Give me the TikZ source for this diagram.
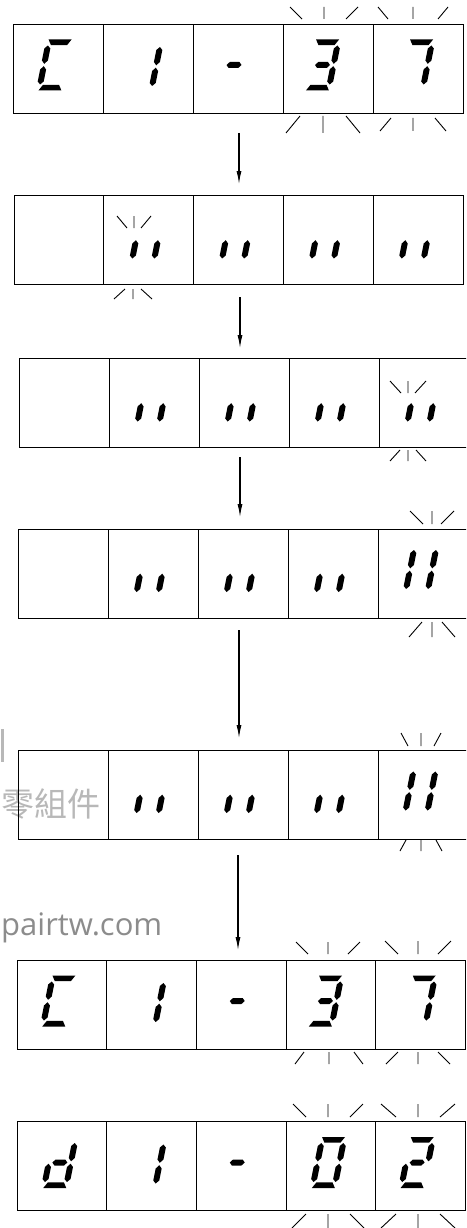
\documentclass[tikz,border=0pt]{standalone}
\usepackage{fontspec}
\newfontfamily\cjk{Noto Sans CJK TC}
\newfontfamily\wmfont{Open Sans}
\usetikzlibrary{arrows.meta}

\tikzset{
  cell/.style={draw, line width=0.8pt, minimum height=89pt, inner sep=0pt, outer sep=0pt},
  ray/.style={line width=0.9pt},
  flow/.style={line width=1.1pt, -{Latex[length=13pt,width=5pt]}},
}

% seven segments in local pixel units (y down)
\newcommand\sgA{\fill (-11.5,-25.5)--(11.5,-25.5)--(8,-19.8)--(-8,-19.8)--cycle;}
\newcommand\sgD{\fill (-11.5,25.5)--(11.5,25.5)--(8,19.8)--(-8,19.8)--cycle;}
\newcommand\sgG{\fill (-7.5,0)--(-4.8,-3)--(4.8,-3)--(7.5,0)--(4.8,3)--(-4.8,3)--cycle;}
\newcommand\sgF{\fill (-11,-19.5)--(-8,-16.5)--(-8,-4.5)--(-11,-1.2)--(-14,-4.5)--(-14,-16.5)--cycle;}
\newcommand\sgB{\fill (11,-19.5)--(14,-16.5)--(14,-4.5)--(11,-1.2)--(8,-4.5)--(8,-16.5)--cycle;}
\newcommand\sgE{\fill (-11,19.5)--(-8,16.5)--(-8,4.5)--(-11,1.2)--(-14,4.5)--(-14,16.5)--cycle;}
\newcommand\sgC{\fill (11,19.5)--(14,16.5)--(14,4.5)--(11,1.2)--(8,4.5)--(8,16.5)--cycle;}

\newcommand\segdigit[4]{%
  \begin{scope}[shift={(#1)},shift={(#2,#3)},xslant=0.2]
    \foreach \s in {#4}{\csname sg\s\endcsname}
  \end{scope}}

% blinking rays: cx, near y, far y, inner dx, outer dx
\newcommand\rays[5]{%
  \draw[ray] (#1-#4,#2)--(#1-#5,#3) (#1,#2)--(#1,#3) (#1+#4,#2)--(#1+#5,#3);}

\begin{document}
\begin{tikzpicture}[x=1pt,y=-1pt]
\useasboundingbox (0,0) rectangle (466,1228);
\clip (0,0) rectangle (466,1228);
\fill[white] (0,0) rectangle (466,1228);

% watermark
\fill[black!28] (1,729) rectangle (3.5,762);
\node[anchor=east, text=black!28, font=\cjk\fontsize{33}{33}\selectfont, inner sep=0pt] (wm1) at (101,803.5) {零組件};
\node[anchor=base west, text=black!45, font=\wmfont\fontsize{31}{31}\selectfont, inner sep=0pt] (wm2) at (1,935) {pairtw.com};

% cells
\foreach \r/\xa/\yc/\w in {1/13/68.5/90, 2/14/240/89.8, 3/19/403/90, 4/18/573.5/90, 5/18/794.5/90, 6/17/1004.5/89.7, 7/17/1166/89.7}
  \foreach \c in {1,...,5}
    \node[cell, minimum width=\w pt] (r\r-\c) at ({\xa+\w/2+\w*(\c-1)}, \yc) {};

% row 1: C1-37
\segdigit{r1-1}{-3}{-3.5}{A,F,E,D}
\segdigit{r1-2}{-3}{-2}{B,C}
\segdigit{r1-3}{-4}{-3.5}{G}
\segdigit{r1-4}{-5.5}{-3.5}{A,B,G,C,D}
\segdigit{r1-5}{-1.5}{-3.5}{A,B,C}
\rays{324}{19}{7}{22}{34}
\rays{413}{19}{7}{25}{35}
\rays{323}{116}{133}{23}{37}
\rays{413}{118}{131}{22}{33}

% rows 2-5
\foreach \c in {2,...,5} {\segdigit{r2-\c}{-1.5}{-1}{E,C}}
\foreach \c in {2,...,5} {\segdigit{r3-\c}{-1.5}{-1}{E,C}}
\foreach \c in {2,...,4} {\segdigit{r4-\c}{-1.5}{-1}{E,C}}
\foreach \c in {2,...,4} {\segdigit{r5-\c}{-1.5}{-1}{E,C}}
\segdigit{r4-5}{-2}{-4}{F,B,E,C}
\segdigit{r5-5}{-2.5}{-3.5}{F,B,E,C}
\rays{134}{228}{216}{7}{17}
\rays{133}{289}{299}{8}{19}
\rays{408}{393}{381}{7}{18}
\rays{408}{450}{461}{8}{18}
\rays{432}{524}{511}{9}{22}
\rays{432}{622}{637}{10}{23}
\rays{421}{746}{733}{13}{20}
\rays{421}{840}{851}{15}{21}

% row 6: C1-37
\segdigit{r6-1}{-3}{-3.5}{A,F,E,D}
\segdigit{r6-2}{-3}{-2}{B,C}
\segdigit{r6-3}{-4}{-3.5}{G}
\segdigit{r6-4}{-5.5}{-3.5}{A,B,G,C,D}
\segdigit{r6-5}{-1.5}{-3.5}{A,B,C}
\rays{328}{954}{942}{20}{32}
\rays{418}{954}{941}{20}{33}
\rays{329}{1052}{1064}{25}{34}
\rays{418}{1052}{1064}{20}{32}

% row 7: d1-02
\segdigit{r7-1}{-2}{-3.5}{B,C,D,E,G}
\segdigit{r7-2}{-3}{-2}{B,C}
\segdigit{r7-3}{-4}{-3.5}{G}
\segdigit{r7-4}{-2.5}{-3.5}{A,B,C,D,E,F}
\segdigit{r7-5}{-3.5}{-3.5}{A,B,G,E,D}
\rays{328}{1117}{1104}{22}{35}
\rays{418}{1117}{1104}{22}{37}
\rays{328}{1214}{1228}{22}{36}
\rays{418}{1214}{1228}{22}{37}

% arrows
\coordinate (a1s) at (239,133); \coordinate (a1e) at (239,184);
\coordinate (a2s) at (240,297); \coordinate (a2e) at (240,348);
\coordinate (a3s) at (240,457); \coordinate (a3e) at (240,517);
\coordinate (a4s) at (239,630); \coordinate (a4e) at (239,738);
\coordinate (a5s) at (238,855); \coordinate (a5e) at (238,950);
\draw[flow] (a1s)--(a1e);
\draw[flow] (a2s)--(a2e);
\draw[flow] (a3s)--(a3e);
\draw[flow] (a4s)--(a4e);
\draw[flow] (a5s)--(a5e);
\end{tikzpicture}
\end{document}
